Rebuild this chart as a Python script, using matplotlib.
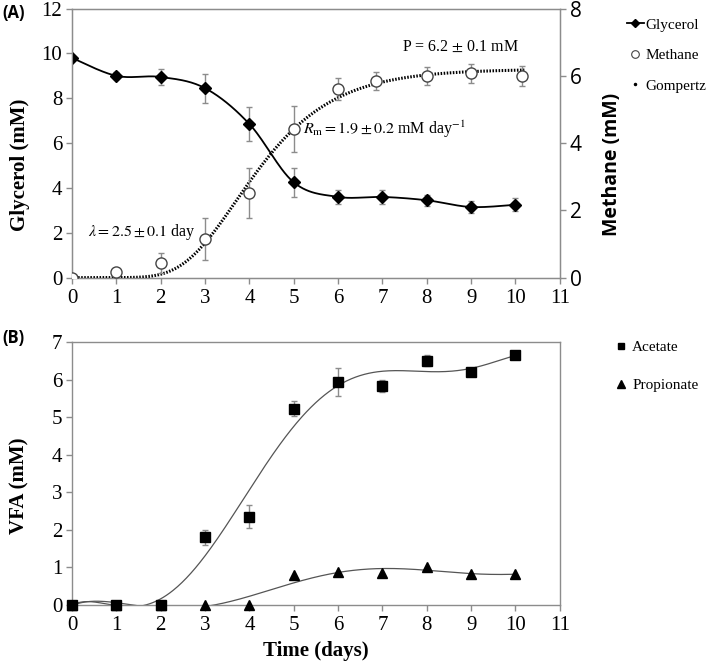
import numpy as np
import matplotlib
matplotlib.use("Agg")
import matplotlib.pyplot as plt
from matplotlib.lines import Line2D

plt.rcParams['font.family'] = ['Liberation Serif', 'DejaVu Serif']
plt.rcParams['mathtext.fontset'] = 'stix'

# ---------------- data ----------------
days = [0, 1, 2, 3, 4, 5, 6, 7, 8, 9, 10]
glycerol = [9.8, 9.0, 8.95, 8.45, 6.85, 4.25, 3.6, 3.6, 3.45, 3.15, 3.25]
glycerol_err = [0.0, 0.15, 0.35, 0.65, 0.75, 0.65, 0.3, 0.3, 0.25, 0.25, 0.3]

methane_days = [0, 1, 2, 3, 4, 5, 6, 6.85, 8, 9, 10.15]
methane = [0.0, 0.17, 0.43, 1.15, 2.52, 4.43, 5.6, 5.85, 6.0, 6.07, 6.0]
methane_err = [0.0, 0.1, 0.3, 0.63, 0.75, 0.68, 0.33, 0.27, 0.27, 0.27, 0.3]

# Gompertz parameters (from figure annotations)
P_gomp = 6.2
Rm_gomp = 1.9
lam_gomp = 2.5

acetate = [0.0, 0.0, 0.0, 1.8, 2.35, 5.22, 5.93, 5.83, 6.5, 6.2, 6.65]
acetate_err = [0.0, 0.0, 0.0, 0.2, 0.3, 0.2, 0.37, 0.15, 0.15, 0.07, 0.1]
propionate = [0.0, 0.0, 0.0, 0.0, 0.0, 0.8, 0.87, 0.85, 1.0, 0.82, 0.82]

GREY = '#8c8c8c'
SANS = ['Open Sans', 'DejaVu Sans']


def catmull_rom(x, y, n=30):
    x = np.asarray(x, float); y = np.asarray(y, float)
    px = np.concatenate([[x[0]], x, [x[-1]]])
    py = np.concatenate([[y[0]], y, [y[-1]]])
    xs, ys = [], []
    t = np.linspace(0, 1, n)
    for i in range(1, len(px) - 2):
        p0, p1, p2, p3 = (np.array([px[j], py[j]]) for j in (i - 1, i, i + 1, i + 2))
        c1 = p1 + (p2 - p0) / 6.0
        c2 = p2 - (p3 - p1) / 6.0
        b = ((1 - t) ** 3)[:, None] * p1 + (3 * (1 - t) ** 2 * t)[:, None] * c1 + \
            (3 * (1 - t) * t ** 2)[:, None] * c2 + (t ** 3)[:, None] * p2
        xs.append(b[:, 0]); ys.append(b[:, 1])
    return np.concatenate(xs), np.concatenate(ys)


fig = plt.figure(figsize=(7.09, 6.61), dpi=100)
axA = fig.add_axes([0.1016, 0.580, 0.688, 0.407])
axB = fig.add_axes([0.1016, 0.0847, 0.688, 0.398])

TICK_FS = 15
LAB_FS = 15

for ax in (axA, axB):
    for s in ax.spines.values():
        s.set_color(GREY)
        s.set_linewidth(1.0)
    ax.tick_params(direction='out', color=GREY, length=4, width=1.0,
                   labelsize=TICK_FS)
    ax.tick_params(axis='x', pad=4)
    ax.tick_params(axis='y', pad=3)
    ax.set_xlim(0, 11)
    ax.set_xticks(range(0, 12))

# ---------------- panel A ----------------
axA.set_ylim(0, 12)
axA.set_yticks(range(0, 13, 2))
gx, gy = catmull_rom(days, glycerol)
axA.plot(gx, gy, color='black', lw=1.3, zorder=3)
axA.errorbar(days, glycerol, yerr=glycerol_err, fmt='D', color='black',
             ms=6, ecolor=GREY, elinewidth=1, capsize=2.5, zorder=4)
axA.set_ylabel('Glycerol (mM)', fontsize=LAB_FS, fontweight='bold')
axA.yaxis.set_label_coords(-0.087, 0.42)

axM = axA.twinx()
axM.set_ylim(0, 8)
axM.set_yticks(range(0, 9, 2))
axM.set_xlim(0, 11)
for s in axM.spines.values():
    s.set_color(GREY)
axM.tick_params(direction='out', color=GREY, length=4, width=1.0,
                labelsize=TICK_FS, pad=3)
for lab in axM.get_yticklabels():
    lab.set_family(SANS)
axM.set_ylabel('Methane (mM)', fontsize=14, fontweight='bold', family=SANS)
axM.yaxis.set_label_coords(1.087, 0.42)

tg = np.linspace(0, 10.2, 400)
gomp = P_gomp * np.exp(-np.exp(Rm_gomp * np.e / P_gomp * (lam_gomp - tg) + 1))
axM.plot(tg, gomp, color='black', lw=2.2, ls=(0, (0.5, 0.5)), zorder=2)
axM.errorbar(methane_days, methane, yerr=methane_err, fmt='o', mfc='white',
             mec='#444444', ms=8, mew=1.0, ecolor=GREY, elinewidth=1,
             capsize=2.5, zorder=5)

axA.text(0.36, 2.05, r'$\lambda = 2.5 \pm 0.1$ day', fontsize=11.5, va='center')
axA.text(5.2, 6.6, r'$R_{\rm m} = 1.9 \pm 0.2$ mM day$^{-1}$', fontsize=11.5, va='center')
axA.text(7.45, 10.3, r'P = 6.2 $\pm$ 0.1 mM', fontsize=11.5, va='center')

hA = [Line2D([], [], color='black', marker='D', ms=4.5, lw=1.3),
      Line2D([], [], color='#444444', marker='o', mfc='white', ms=5.5, mew=0.8, lw=0),
      Line2D([], [], color='black', marker='.', ms=3, lw=0)]
fig.legend(hA, ['Glycerol', 'Methane', 'Gompertz'], loc='upper left',
           bbox_to_anchor=(0.884, 0.973), frameon=False, fontsize=11,
           handlelength=1.1, handletextpad=0.15, labelspacing=1.1,
           borderaxespad=0, borderpad=0)

fig.text(0.003, 0.981, '(A)', fontsize=12, fontweight='bold', family=SANS,
         va='center')

# ---------------- panel B ----------------
axB.set_ylim(0, 7)
axB.set_yticks(range(0, 8))
tt = np.linspace(0, 10, 400)
ca = np.polyfit(days, acetate, 6)
cp = np.polyfit(days, propionate, 6)
axB.plot(tt, np.polyval(ca, tt), color='#555555', lw=0.9, zorder=2)
axB.plot(tt, np.polyval(cp, tt), color='#555555', lw=0.9, zorder=2)
axB.plot(days, propionate, '^', color='black', ms=7, zorder=4, clip_on=False)
axB.errorbar(days, acetate, yerr=acetate_err, fmt='s', color='black', ms=7,
             ecolor=GREY, elinewidth=1, capsize=2.5, zorder=5, clip_on=False)
axB.set_ylabel('VFA (mM)', fontsize=LAB_FS, fontweight='bold')
axB.yaxis.set_label_coords(-0.087, 0.455)
axB.set_xlabel('Time (days)', fontsize=LAB_FS, fontweight='bold', labelpad=4)

hB = [Line2D([], [], color='black', marker='s', ms=5, lw=0),
      Line2D([], [], color='black', marker='^', ms=5.5, lw=0)]
fig.legend(hB, ['Acetate', 'Propionate'], loc='upper left',
           bbox_to_anchor=(0.866, 0.485), frameon=False, fontsize=11,
           handlelength=0.9, handletextpad=0.3, labelspacing=1.6,
           borderaxespad=0, borderpad=0)

fig.text(0.003, 0.488, '(B)', fontsize=12, fontweight='bold', family=SANS,
         va='center')

fig.savefig('out.png', dpi=100)
